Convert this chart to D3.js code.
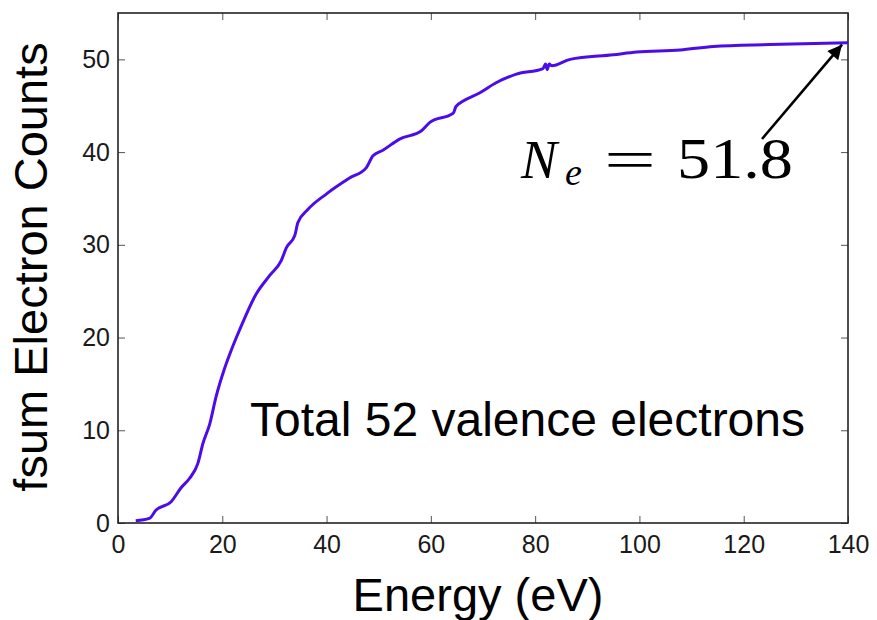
<!DOCTYPE html>
<html>
<head>
<meta charset="utf-8">
<script src="https://cdn.jsdelivr.net/npm/d3@7"></script>
<style>
  body { margin: 0; background: #fff; }
  svg { display: block; }
</style>
</head>
<body>
<svg id="chart"></svg>
<script>
// values
const energy = [3.4, 6, 7.3, 10.2, 12.1, 13.7, 15.3, 16.3, 17.6, 18.8, 20.4, 21.7, 22.7, 23.3,
  26.5, 29.1, 31.3, 32.3, 33.9, 34.5, 36.4, 40, 44.4, 47.6, 48.9, 50.8, 54, 58.2, 59.8,
  64.3, 64.8, 66.2, 69.4, 72.6, 76.4, 81.5, 82, 82.3, 82.7, 83.2, 86.7, 95, 99.5, 107.8,
  114.2, 125, 140];
const fsum = [0.25, 0.5, 1.4, 2.3, 3.8, 4.8, 6.4, 8.6, 10.7, 13.6, 16.6, 18.6, 20.0, 20.8,
  24.7, 26.7, 28.3, 29.7, 31.0, 32.4, 33.8, 35.5, 37.2, 38.3, 39.6, 40.2, 41.4, 42.3, 43.2,
  44.2, 44.9, 45.5, 46.4, 47.5, 48.4, 49.0, 49.5, 48.9, 49.5, 49.3, 50.0, 50.5, 50.8, 51.0,
  51.4, 51.6, 51.8];
const xTicks = [0, 20, 40, 60, 80, 100, 120, 140];
const yTicks = [0, 10, 20, 30, 40, 50];

const width = 877, height = 620;
const margin = { top: 13, right: 29, bottom: 97, left: 118 };

const svg = d3.select("#chart")
    .attr("width", width)
    .attr("height", height)
    .style("font-family", "'Liberation Sans', Arial, sans-serif");

const x = d3.scaleLinear().domain([0, 140]).range([margin.left, width - margin.right]);
const y = d3.scaleLinear().domain([0, 55]).range([height - margin.bottom, margin.top]);

// inward ticks on all four sides
const tick = 7;
svg.append("g")
    .attr("transform", `translate(0,${y(0)})`)
    .call(d3.axisBottom(x).tickValues(xTicks).tickSizeInner(-tick).tickSizeOuter(0).tickPadding(12))
    .call(g => g.select(".domain").remove())
    .call(g => g.selectAll(".tick line").attr("stroke", "#555"))
    .call(g => g.selectAll(".tick text").attr("font-size", 25).attr("fill", "#1a1a1a"));

svg.append("g")
    .attr("transform", `translate(${x(0)},0)`)
    .call(d3.axisLeft(y).tickValues(yTicks).tickSizeInner(-tick).tickSizeOuter(0).tickPadding(8))
    .call(g => g.select(".domain").remove())
    .call(g => g.selectAll(".tick line").attr("stroke", "#555"))
    .call(g => g.selectAll(".tick text").attr("font-size", 25).attr("fill", "#1a1a1a"));

svg.append("g")
    .attr("transform", `translate(0,${y(55)})`)
    .call(d3.axisTop(x).tickValues(xTicks).tickSizeInner(-tick).tickSizeOuter(0).tickFormat(""))
    .call(g => g.select(".domain").remove())
    .call(g => g.selectAll(".tick line").attr("stroke", "#555"));

svg.append("g")
    .attr("transform", `translate(${x(140)},0)`)
    .call(d3.axisRight(y).tickValues(yTicks).tickSizeInner(-tick).tickSizeOuter(0).tickFormat(""))
    .call(g => g.select(".domain").remove())
    .call(g => g.selectAll(".tick line").attr("stroke", "#555"));

// frame
svg.append("rect")
    .attr("x", x(0))
    .attr("y", y(55))
    .attr("width", x(140) - x(0))
    .attr("height", y(0) - y(55))
    .attr("fill", "none")
    .attr("stroke", "#222")
    .attr("stroke-width", 1.6);

// curve
const line = d3.line()
    .x(i => x(energy[i]))
    .y(i => y(fsum[i]))
    .curve(d3.curveMonotoneX);

svg.append("path")
    .datum(d3.range(energy.length))
    .attr("fill", "none")
    .attr("stroke", "#4c0ce8")
    .attr("stroke-width", 3)
    .attr("stroke-linejoin", "round")
    .attr("d", line);

// axis titles
svg.append("text")
    .attr("x", 478)
    .attr("y", 611)
    .attr("text-anchor", "middle")
    .attr("font-size", 47)
    .text("Energy (eV)");

svg.append("text")
    .attr("transform", "translate(47,267) rotate(-90)")
    .attr("text-anchor", "middle")
    .attr("font-size", 47)
    .text("fsum Electron Counts");

// annotations
svg.append("text")
    .attr("x", 250)
    .attr("y", 436)
    .attr("font-size", 48)
    .text("Total 52 valence electrons");

const lab = svg.append("g")
    .style("font-family", "'Liberation Serif', 'Times New Roman', serif");
lab.append("text").attr("x", 521).attr("y", 178).attr("font-size", 54)
    .attr("font-style", "italic").text("N");
lab.append("text").attr("x", 565).attr("y", 185).attr("font-size", 38)
    .attr("font-style", "italic").text("e");
lab.append("text").attr("x", 604).attr("y", 178).attr("font-size", 54)
    .attr("textLength", 52).attr("lengthAdjust", "spacingAndGlyphs").text("=");
lab.append("text").attr("x", 677).attr("y", 178).attr("font-size", 56)
    .attr("textLength", 116).attr("lengthAdjust", "spacingAndGlyphs").text("51.8");

// arrow to the last point
svg.append("defs").append("marker")
    .attr("id", "head")
    .attr("viewBox", "0 0 10 10")
    .attr("refX", 10).attr("refY", 5)
    .attr("markerWidth", 6).attr("markerHeight", 5.5)
    .attr("markerUnits", "strokeWidth")
    .attr("orient", "auto")
    .append("path")
    .attr("d", "M0,0L10,5L0,10Z")
    .attr("fill", "#000");

svg.append("line")
    .attr("x1", 762).attr("y1", 139)
    .attr("x2", x(140) - 6).attr("y2", y(51.8) + 2)
    .attr("stroke", "#000")
    .attr("stroke-width", 2.6)
    .attr("marker-end", "url(#head)");
</script>
</body>
</html>
